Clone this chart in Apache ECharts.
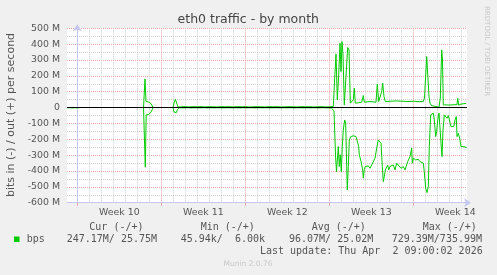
<!DOCTYPE html>
<html><head><meta charset="utf-8">
<script src="https://cdn.jsdelivr.net/npm/echarts@6/dist/echarts.min.js"></script>
<style>html,body{margin:0;padding:0;background:#f0f0f0;} #c{width:497px;height:275px;}</style>
</head><body><div id="c"></div>
<script>
// ---- texts ----
const chartTitle = 'eth0 traffic - by month';
const yAxisTitle = 'bits in (-) / out (+) per second';
const watermark = 'RRDTOOL / TOBI OETIKER';
const footer = 'Munin 2.0.76';
const seriesName = 'bps';
const legendHeaders = ['Cur (-/+)', 'Min (-/+)', 'Avg (-/+)', 'Max (-/+)'];
const legendValues = ['247.17M/ 25.75M', '45.94k/  6.00k', '96.07M/ 25.02M', '729.39M/735.99M'];
const lastUpdate = 'Last update: Thu Apr  2 09:00:02 2026';

// ---- x axis (hours since start of Week 10) ----
const weekLabels = ['Week 10', 'Week 11', 'Week 12', 'Week 13', 'Week 14'];
const weekLabelHours = [84, 252, 420, 588, 756];
const weekStartHours = [0, 168, 336, 504, 672];
const dayHours = [24,48,72,96,120,144,192,216,240,264,288,312,360,384,408,432,456,480,528,552,576,600,624,648,696,720,744,768];

// ---- y axis (M bits/s) ----
const yMin = -600, yMax = 500, yStep = 100;

// ---- series values: [hour, Mbit/s] ; '-' = no data ----
const outTraffic = [
  [-20,0],[-17,4],[-14,0],[-11,5],[-8,1],[-5,4],[-2,0],[1,5],[2,1],[3,'-'],
  [132.4,0],[135.4,181],[137.4,38],[139.4,36],[142,36],[144.4,33],[146.4,28],[148.4,20],[150,10],[151.4,0],[160,'-'],
  [191.4,0],[193.4,30],[196,52],[198,40],[200,18],[201.4,2],
  [204,0],[208,5],[212,0],[216,6],[220,1],[224,4],[228,0],[232,6],[236,0],[240,5],[244,1],[248,6],[252,0],[256,4],[260,0],[264,6],[268,1],[272,5],[276,0],[280,4],[284,0],[288,6],[292,1],[296,5],[300,0],[304,6],[308,0],[312,4],[316,1],[320,6],[324,0],[328,5],[332,0],[336,6],[340,1],[344,4],[348,0],[352,5],[356,0],[360,6],[364,1],[368,5],[372,0],[376,4],[380,0],[384,6],[388,1],[392,5],[396,0],[400,6],[404,0],[408,4],[412,1],[416,5],[420,0],[424,6],[428,0],[432,5],[436,1],[440,4],[444,0],[448,6],[452,0],[456,5],[460,1],[464,6],[468,0],[472,4],[476,0],[480,5],[484,1],[488,6],[492,0],[496,4],[500,0],[504,5],[508,1],
  [512,6],[514.8,185],[517.4,337],[520,49],[522.8,206],[525.4,406],[527.4,227],[529.4,416],[531.4,332],[534,17],[537.4,28],[540.8,379],[543.4,364],[546,28],[549.4,34],[552,49],[554,122],[556,28],[562,30],[568.8,34],[572,76],[574,34],[579.4,36],[585.4,38],[591.4,36],[597.4,34],[600,148],[602.8,38],[606,38],[608.8,101],[610.8,154],[613.4,69],[616,38],[625.4,40],[638.8,42],[649.4,40],[661.4,38],[673.4,40],[683.4,37],[692,38],[694.4,60],[698.8,322],[701.4,311],[703.4,69],[705.4,28],[708.4,12],[711.4,17],[715.4,8],[719.4,14],[723.4,2],[726,60],[728.8,364],[730.4,300],[732,17],[737.4,17],[745.4,16],[753.4,18],[759.4,18],[760.8,59],[762.8,15],[767.4,22],[771.4,20],[777.4,26]
];
const inTraffic = [
  [-20,-1],[-17,-7],[-14,-1],[-11,-8],[-8,-2],[-5,-7],[-2,-1],[1,-8],[2,-2],[3,'-'],
  [132.4,0],[136,-376],[137.8,-46],[139.4,-44],[142,-44],[144.4,-40],[146.4,-33],[148.4,-24],[150,-12],[151.4,0],[160,'-'],
  [191.4,0],[193.4,-28],[196,-38],[198,-32],[200,-14],[201.4,-2],
  [204,-1],[208,-8],[212,-2],[216,-9],[220,-1],[224,-7],[228,-2],[232,-8],[236,-1],[240,-9],[244,-2],[248,-7],[252,-1],[256,-8],[260,-2],[264,-9],[268,-1],[272,-7],[276,-2],[280,-8],[284,-1],[288,-9],[292,-2],[296,-7],[300,-1],[304,-8],[308,-2],[312,-9],[316,-1],[320,-7],[324,-2],[328,-8],[332,-1],[336,-9],[340,-2],[344,-7],[348,-1],[352,-8],[356,-2],[360,-9],[364,-1],[368,-7],[372,-2],[376,-8],[380,-1],[384,-9],[388,-2],[392,-7],[396,-1],[400,-8],[404,-2],[408,-9],[412,-1],[416,-7],[420,-2],[424,-8],[428,-1],[432,-9],[436,-2],[440,-7],[444,-1],[448,-8],[452,-2],[456,-9],[460,-1],[464,-7],[468,-2],[472,-8],[476,-1],[480,-9],[484,-2],[488,-7],[492,-1],[496,-8],[500,-2],[504,-9],[508,-3],
  [512,-8],[513.4,-20],[516.4,-300],[518.4,-404],[522,-246],[524,-372],[526,-298],[528,-404],[530,-246],[532,-141],[534.8,-78],[536.8,-98],[538.8,-372],[540,-519],[542,-372],[544,-204],[546.8,-183],[548.8,-172],[552,-178],[555.4,-172],[557.4,-183],[560,-193],[562.8,-246],[564,-298],[566.8,-330],[569.4,-341],[570.8,-393],[572,-445],[574,-393],[576,-372],[578.8,-383],[582,-368],[585.4,-383],[588.8,-362],[592,-372],[595.4,-319],[598.8,-256],[602,-204],[605.4,-193],[607.4,-225],[610,-372],[612,-467],[614,-435],[616,-393],[618.8,-383],[620.8,-362],[622.8,-393],[625.4,-372],[628.8,-383],[632,-362],[635.4,-393],[638.8,-351],[642,-341],[647.4,-383],[652,-372],[655.4,-393],[660.8,-341],[665.4,-309],[668.8,-256],[670,-351],[672,-319],[676.8,-330],[682,-326],[685.4,-341],[688.8,-330],[692,-351],[694,-404],[696.8,-509],[699.4,-536],[702,-498],[704,-246],[706.8,-46],[709.4,-46],[712,-35],[714,-78],[716.8,-183],[718.8,-151],[720.8,-78],[723.4,-35],[725.4,-46],[727.4,-225],[729.4,-309],[731.4,-141],[734,-46],[736.8,-57],[739.4,-67],[742,-50],[744,-57],[747.4,-120],[750,-130],[752.8,-120],[755.4,-78],[758,-57],[759.4,-183],[762,-162],[764.8,-193],[767.4,-246],[770,-256],[772.8,-246],[775.4,-246],[778.8,-252]
];

// ---- styling ----
const X_MIN = -20.6, X_MAX = 779.4;
const GREEN = '#00cc00';
const GRID_MINOR = '#cfcfcf';
const GRID_MAJOR = '#e9a3a3';
const AXIS_COLOR = '#c5c8ee';
const TEXT = '#555555';
const SANS = '"DejaVu Sans", sans-serif';
const MONO = '"DejaVu Sans Mono", monospace';

const chart = echarts.init(document.getElementById('c'), null, {renderer: 'canvas'});

const graphics = [
  {type:'text', x:248.3, y:19.5, style:{text:chartTitle, font:'12.5px ' + SANS, fill:'#444', textAlign:'center', textVerticalAlign:'middle'}},
  {type:'text', x:11, y:115, rotation:Math.PI/2, style:{text:yAxisTitle, font:'11px ' + SANS, fill:TEXT, textAlign:'center', textVerticalAlign:'middle'}},
  {type:'text', x:487, y:6, rotation:-Math.PI/2, style:{text:watermark, font:'7px ' + SANS, fill:'#c8c8c8', textAlign:'left', textVerticalAlign:'middle'}},
  {type:'text', x:248, y:264, style:{text:footer, font:'7.5px ' + SANS, fill:'#c8c8c8', textAlign:'center', textVerticalAlign:'middle'}},
  {type:'rect', shape:{x:14, y:236.5, width:5.5, height:5.5}, style:{fill:GREEN}},
  {type:'text', x:26.7, y:239.3, style:{text:seriesName, font:'10px ' + MONO, fill:TEXT, textAlign:'left', textVerticalAlign:'middle'}},
  {type:'text', x:482.7, y:251, style:{text:lastUpdate, font:'10px ' + MONO, fill:TEXT, textAlign:'right', textVerticalAlign:'middle'}}
];
const headerX = [89.3, 200.7, 311.7, 422.7];
const valueX = [66.7, 180.7, 289, 391.7];
legendHeaders.forEach((t, i) => graphics.push({type:'text', x:headerX[i], y:227.7, style:{text:t, font:'10px ' + MONO, fill:TEXT, textAlign:'left', textVerticalAlign:'middle'}}));
legendValues.forEach((t, i) => graphics.push({type:'text', x:valueX[i], y:239.3, style:{text:t, font:'10px ' + MONO, fill:TEXT, textAlign:'left', textVerticalAlign:'middle'}}));

const baseX = {type:'value', min:X_MIN, max:X_MAX, position:'bottom'};
const option = {
  backgroundColor: '#f0f0f0',
  animation: false,
  grid: {left:67, top:28.3, width:400, height:174.4, show:true, backgroundColor:'#ffffff', borderWidth:0},
  xAxis: [
    Object.assign({}, baseX, {
      axisLine:{show:false}, axisLabel:{show:false},
      axisTick:{show:true, customValues:dayHours, length:2, lineStyle:{color:GRID_MINOR}},
      splitLine:{show:true, lineStyle:{color:GRID_MINOR, width:1, type:[1,1]}}
    }),
    Object.assign({}, baseX, {
      axisLine:{show:false}, axisLabel:{show:false},
      axisTick:{show:true, customValues:weekStartHours, length:3, lineStyle:{color:GRID_MAJOR}},
      splitLine:{show:true, lineStyle:{color:GRID_MAJOR, width:1, type:[1,1]}}
    }),
    Object.assign({}, baseX, {
      axisLine:{show:true, symbol:['none','arrow'], symbolSize:[7,7], symbolOffset:[0,4], lineStyle:{color:AXIS_COLOR, width:1}},
      axisTick:{show:false}, splitLine:{show:false},
      axisLabel:{show:true, customValues:weekLabelHours, formatter:(v) => weekLabels[weekLabelHours.indexOf(v)], color:TEXT, fontSize:9.4, fontFamily:SANS, margin:5}
    })
  ],
  yAxis: {
    type:'value', min:yMin, max:yMax, interval:yStep,
    axisLine:{show:true, symbol:['none','arrow'], symbolSize:[7,7], symbolOffset:[0,4], lineStyle:{color:AXIS_COLOR, width:1}},
    axisTick:{show:false},
    axisLabel:{color:TEXT, fontSize:9.4, fontFamily:SANS, margin:7, formatter:(v) => v === 0 ? '0' : v + ' M'},
    splitLine:{show:true, lineStyle:{color:GRID_MAJOR, width:1, type:[1,1]}},
    minorTick:{show:false, splitNumber:2},
    minorSplitLine:{show:true, lineStyle:{color:GRID_MINOR, width:1, type:[1,1]}}
  },
  series: [
    {name:seriesName + ' out', type:'line', xAxisIndex:2, data:outTraffic, showSymbol:false, symbol:'none', lineStyle:{color:GREEN, width:1}, z:3},
    {name:seriesName + ' in', type:'line', xAxisIndex:2, data:inTraffic, showSymbol:false, symbol:'none', lineStyle:{color:GREEN, width:1}, z:3},
    {name:'zero', type:'line', xAxisIndex:2, data:[], z:10,
     markLine:{silent:true, symbol:['none','none'], label:{show:false}, lineStyle:{color:'#000', width:1, type:'solid'}, data:[{yAxis:0}]}}
  ],
  graphic: graphics
};
chart.setOption(option);
</script></body></html>
